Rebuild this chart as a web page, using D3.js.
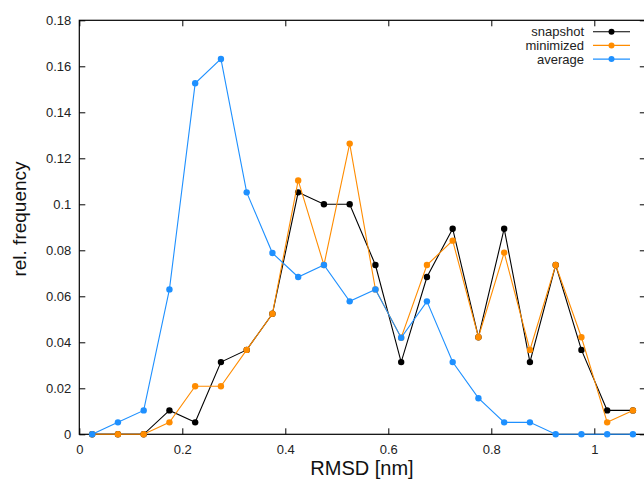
<!DOCTYPE html>
<html>
<head>
<meta charset="utf-8">
<script src="https://cdn.jsdelivr.net/npm/d3@7"></script>
<style>
  body { margin: 0; background: #fff; }
  svg { display: block; font-family: "Liberation Sans", Arial, Helvetica, sans-serif; }
</style>
</head>
<body>
<svg id="chart" width="644" height="479"></svg>
<script>
const rmsd = [0.025,0.075,0.125,0.175,0.225,0.275,0.325,0.375,0.425,0.475,0.525,0.575,0.625,0.675,0.725,0.775,0.825,0.875,0.925,0.975,1.025,1.075];
const snapshot = [0,0,0,0.0104,0.0052,0.0314,0.0367,0.0524,0.1052,0.1,0.1,0.0736,0.0314,0.0684,0.0894,0.0422,0.0894,0.0314,0.0736,0.0367,0.0104,0.0104];
const minimized = [0,0,0,0.0052,0.0209,0.0209,0.0367,0.0524,0.1104,0.0736,0.1264,0.063,0.042,0.0736,0.0842,0.0422,0.079,0.0367,0.0736,0.0422,0.0052,0.0104];
const average = [0,0.0052,0.0104,0.063,0.1526,0.1632,0.1052,0.0788,0.0684,0.0736,0.0578,0.063,0.042,0.0578,0.0314,0.0157,0.0052,0.0052,0,0,0,0];
const seriesNames = ["snapshot","minimized","average"];
const seriesColors = ["#000000","#ff8c00","#1e90ff"];
const xTicks = [0,0.2,0.4,0.6,0.8,1];
const yTicks = [0,0.02,0.04,0.06,0.08,0.1,0.12,0.14,0.16,0.18];

const svg = d3.select("#chart");
const L = 79.3, T = 20.3, B = 434.3;
const x = d3.scaleLinear().domain([0, 1.1]).range([L, L + 515 * 1.1]);
const y = d3.scaleLinear().domain([0, 0.18]).range([B, T]);
const R = x(1.1);

// frame
svg.append("rect").attr("x", L).attr("y", T).attr("width", R - L).attr("height", B - T)
  .attr("fill", "none").attr("stroke", "#000").attr("stroke-width", 1.2);

const fmt = d => d === 0 ? "0" : String(+d.toFixed(2));

// axes
const gx = svg.append("g").attr("transform", `translate(0,${B})`)
  .call(d3.axisBottom(x).tickValues(xTicks).tickSize(-6).tickPadding(10).tickFormat(fmt));
const gxt = svg.append("g").attr("transform", `translate(0,${T})`)
  .call(d3.axisTop(x).tickValues(xTicks).tickSize(-6).tickFormat(""));
const gy = svg.append("g").attr("transform", `translate(${L},0)`)
  .call(d3.axisLeft(y).tickValues(yTicks).tickSize(-6).tickPadding(8).tickFormat(fmt));
const gyr = svg.append("g").attr("transform", `translate(${R},0)`)
  .call(d3.axisRight(y).tickValues(yTicks).tickSize(-6).tickFormat(""));
[gx, gxt, gy, gyr].forEach(g => {
  g.select(".domain").remove();
  g.selectAll(".tick line").attr("stroke", "#000");
  g.selectAll("text").attr("font-size", 13).attr("fill", "#222")
    .attr("font-family", "Liberation Sans, Arial, sans-serif");
});
gx.selectAll("text").attr("dy", "0.71em");

// axis titles
svg.append("text").attr("x", 362).attr("y", 475).attr("text-anchor", "middle")
  .attr("font-size", 20).attr("fill", "#111").text("RMSD [nm]");
svg.append("text").attr("transform", "translate(26,219) rotate(-90)").attr("text-anchor", "middle")
  .attr("font-size", 19).attr("fill", "#111").text("rel. frequency");

// series (drawn in order: snapshot, minimized, average on top)
const data = [snapshot, minimized, average];
const line = d3.line().x((d, i) => x(rmsd[i])).y(d => y(d));
[0, 1, 2].forEach(k => {
  const g = svg.append("g");
  g.append("path").datum(data[k]).attr("d", line).attr("fill", "none")
    .attr("stroke", seriesColors[k]).attr("stroke-width", 1.1);
  g.selectAll("circle").data(data[k]).join("circle")
    .attr("cx", (d, i) => x(rmsd[i])).attr("cy", d => y(d)).attr("r", 3.2)
    .attr("fill", seriesColors[k]);
});

// legend
const lg = svg.append("g");
seriesNames.forEach((n, i) => {
  const yy = 31.7 + i * 13.7;
  lg.append("text").attr("x", 584).attr("y", yy).attr("dy", "0.35em").attr("text-anchor", "end")
    .attr("font-size", 13).attr("fill", "#222").text(n);
  lg.append("line").attr("x1", 593).attr("x2", 630).attr("y1", yy).attr("y2", yy)
    .attr("stroke", seriesColors[i]).attr("stroke-width", 1.1);
  lg.append("circle").attr("cx", 611.5).attr("cy", yy).attr("r", 3).attr("fill", seriesColors[i]);
});
</script>
</body>
</html>
